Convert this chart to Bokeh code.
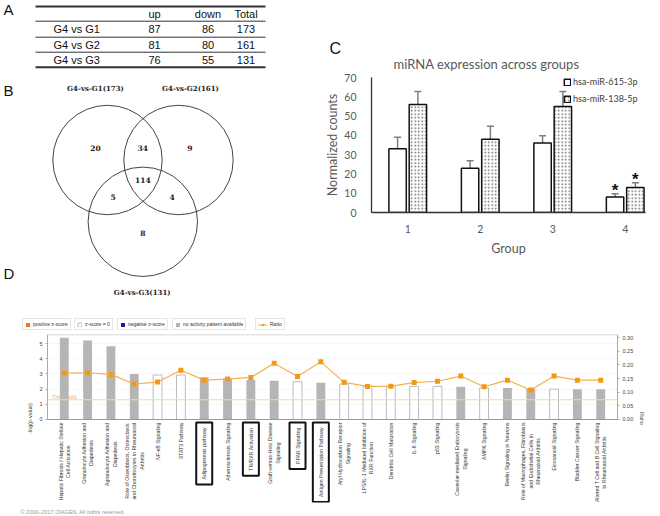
import math
from bokeh.plotting import figure
from bokeh.models import (ColumnDataSource, Range1d, FactorRange, LinearAxis,
                          SingleIntervalTicker, FixedTicker, NumeralTickFormatter, Whisker,
                          TeeHead, Legend, LegendItem, Span, Title)
from bokeh.layouts import row, column
from bokeh.core.properties import value
from bokeh.embed import file_html
from bokeh.resources import INLINE

SANS = "Liberation Sans"
SERIF = "DejaVu Serif"
XL = "Lato"

# ---------------- Panel A: table data ----------------
comparisons = ["G4 vs G1", "G4 vs G2", "G4 vs G3"]
up_counts = [87, 81, 76]
down_counts = [86, 80, 55]
total_counts = [173, 161, 131]
table_header = ["up", "down", "Total"]

# ---------------- Panel B: Venn data ----------------
venn_set_labels = ["G4-vs-G1(173)", "G4-vs-G2(161)", "G4-vs-G3(131)"]
# G1 only, G1&G2, G2 only, all three, G1&G3, G2&G3, G3 only
venn_region_counts = [20, 34, 9, 114, 5, 4, 8]

# ---------------- Panel C: bar chart data ----------------
groups = [1, 2, 3, 4]
c_series = ["hsa-miR-615-3p", "hsa-miR-138-5p"]
mir615 = [33, 23, 36, 8]
mir615_sd = [6.0, 3.8, 3.8, 1.7]
mir138 = [56, 38, 55, 13]
mir138_sd = [6.7, 6.7, 7.8, 2.4]
significant = [False, False, False, True]

# ---------------- Panel D: IPA pathways ----------------
pathways = [
    "Hepatic Fibrosis / Hepatic Stellate\nCell Activation",
    "Granulocyte Adhesion and\nDiapedesis",
    "Agranulocyte Adhesion and\nDiapedesis",
    "Role of Osteoblasts, Osteoclasts\nand Chondrocytes in Rheumatoid\nArthritis",
    "NF-\u03baB Signaling",
    "STAT3 Pathway",
    "Adipogenesis pathway",
    "Atherosclerosis Signaling",
    "TR/RXR Activation",
    "Graft-versus-Host Disease\nSignaling",
    "PPAR Signaling",
    "Antigen Presentation Pathway",
    "Aryl Hydrocarbon Receptor\nSignaling",
    "LPS/IL-1 Mediated Inhibition of\nRXR Function",
    "Dendritic Cell Maturation",
    "IL-6 Signaling",
    "p53 Signaling",
    "Caveolar-mediated Endocytosis\nSignaling",
    "AMPK Signaling",
    "Reelin Signaling in Neurons",
    "Role of Macrophages, Fibroblasts\nand Endothelial Cells in\nRheumatoid Arthritis",
    "Eicosanoid Signaling",
    "Bladder Cancer Signaling",
    "Altered T Cell and B Cell Signaling\nin Rheumatoid Arthritis",
]
neg_log_p = [5.38, 5.2, 4.82, 3.0, 2.93, 2.93, 2.78, 2.71, 2.6, 2.56, 2.49, 2.42,
             2.33, 2.2, 2.2, 2.18, 2.18, 2.16, 2.09, 2.07, 2.04, 2.0, 2.0, 2.0]
ratio = [0.170, 0.171, 0.165, 0.130, 0.137, 0.180, 0.144, 0.148, 0.154, 0.206, 0.157, 0.211,
         0.136, 0.121, 0.122, 0.135, 0.140, 0.159, 0.120, 0.144, 0.108, 0.159, 0.144, 0.144]
activity = ["none", "none", "none", "none", "zero", "zero", "none", "none", "none", "none",
            "zero", "none", "zero", "zero", "zero", "zero", "zero", "none", "zero", "none",
            "none", "zero", "none", "none"]
highlighted = ["Adipogenesis pathway", "TR/RXR Activation", "PPAR Signaling",
               "Antigen Presentation Pathway"]
threshold = 1.3
d_legend_labels = ["positive z-score", "z-score = 0", "negative z-score",
                   "no activity pattern available", "Ratio"]
copyright_text = "\u00a9 2000\u20132017 QIAGEN. All rights reserved."

# colours
C_POS, C_NEG, C_GRAY, C_ZERO_LINE = "#e8772a", "#1d1d9e", "#b5b5b5", "#bdbdbd"
C_RATIO_LINE, C_RATIO_PT = "#f4b04a", "#f29a16"

TOP_H = 316

# =============== Left column: A (table), B (Venn), letter D ===============
left = figure(width=322, height=TOP_H, x_range=Range1d(0, 322), y_range=Range1d(TOP_H, 0),
              output_backend="svg", toolbar_location=None, frame_align=False,
              x_axis_location=None, y_axis_location=None, min_border=0)
left.grid.visible = False
left.outline_line_color = None

left.text(x=[3, 3, 3], y=[9, 90, 273], text=["A", "B", "D"], text_font=value(SANS),
          text_font_size="15px", text_align="left", text_baseline="middle", text_color="#111")

rule_y = [6, 20.7, 36.7, 51.7, 66.7]
rule_w = [2, 1, 1, 1, 2]
left.segment(x0=35, x1=265, y0=rule_y, y1=rule_y, line_width=rule_w, line_color="#333")
header_y = (rule_y[0] + rule_y[1]) / 2
row_y = [(rule_y[i] + rule_y[i + 1]) / 2 for i in range(1, 4)]
tfont = dict(text_font=value(SANS), text_font_size="11px", text_baseline="middle", text_color="#111")
left.text(x=[148], y=[header_y], text=[table_header[0]], text_align="left", **tfont)
left.text(x=[207.5, 245.5], y=[header_y, header_y], text=table_header[1:], text_align="center", **tfont)
left.text(x=53, y=row_y, text=comparisons, text_align="left", **tfont)
left.text(x=148, y=row_y, text=[str(v) for v in up_counts], text_align="left", **tfont)
left.text(x=207.5, y=row_y, text=[str(v) for v in down_counts], text_align="center", **tfont)
left.text(x=245.5, y=row_y, text=[str(v) for v in total_counts], text_align="center", **tfont)

left.circle(x=[107, 178, 142.3], y=[159.5, 159.5, 221.3], radius=54.7,
            fill_color=None, line_color="#444", line_width=1)
vfont = dict(text_font=value(SERIF), text_font_style="bold", text_align="center",
             text_baseline="middle", text_color="#222")
left.text(x=[95, 190, 141.7], y=[88, 88, 291.7], text=venn_set_labels, text_font_size="7px", **vfont)
left.text(x=[95, 142.3, 189.3, 142.3, 112.7, 171.7, 142.3],
          y=[147.7, 147.7, 147.7, 179.3, 196.7, 196.7, 232.7],
          text=[str(v) for v in venn_region_counts], text_font_size="7.5px", **vfont)

# =============== Panel C ===============
c = figure(width=334, height=TOP_H, x_range=Range1d(0.5, 4.28), y_range=Range1d(0, 70),
           output_backend="svg", toolbar_location=None, frame_align=False,
           min_border_left=49, min_border_right=11, min_border_top=77, min_border_bottom=104)
c.grid.visible = False
c.outline_line_color = None
c.title.text = "C"
c.title.text_font = SANS
c.title.text_font_size = "16px"
c.title.text_font_style = "normal"
c.title.text_color = "#111"
c.title.align = "left"
c.title.offset = -42
c.title.standoff = -18
c.add_layout(Title(text="miRNA expression across groups", align="left", text_font=XL,
                   text_font_size="13px", text_font_style="normal", text_color="#595959",
                   offset=22, standoff=12), "above")

for ax in (c.xaxis[0], c.yaxis[0]):
    ax.major_tick_line_color = None
    ax.minor_tick_line_color = None
    ax.axis_line_color = "#333"
    ax.axis_line_width = 1.3
    ax.major_label_text_font = XL
    ax.major_label_text_font_size = "10.5px"
    ax.major_label_text_color = "#595959"
    ax.axis_label_text_font = XL
    ax.axis_label_text_font_size = "12.5px"
    ax.axis_label_text_font_style = "normal"
    ax.axis_label_text_color = "#595959"
c.yaxis.ticker = SingleIntervalTicker(interval=10, num_minor_ticks=0)
c.yaxis.axis_label = "Normalized counts"
c.yaxis.major_label_standoff = 9
c.yaxis.axis_label_standoff = 1
c.xaxis.ticker = FixedTicker(ticks=groups)
c.xaxis.axis_label = "Group"
c.xaxis.major_label_standoff = 6
c.xaxis.axis_label_standoff = 5

dodge_w = 0.14
csrc = ColumnDataSource(dict(
    x615=[g - dodge_w for g in groups], x138=[g + dodge_w for g in groups],
    m615=mir615, m138=mir138,
    lo615=[m - s for m, s in zip(mir615, mir615_sd)], hi615=[m + s for m, s in zip(mir615, mir615_sd)],
    lo138=[m - s for m, s in zip(mir138, mir138_sd)], hi138=[m + s for m, s in zip(mir138, mir138_sd)],
))
b615 = c.vbar(x="x615", top="m615", width=0.24, source=csrc, fill_color="white",
              line_color="#111", line_width=1.5)
b138 = c.vbar(x="x138", top="m138", width=0.24, source=csrc, fill_color="white",
              line_color="#111", line_width=1.5, hatch_pattern="dot", hatch_color="#666",
              hatch_scale=3.5, hatch_weight=1)
for base, lo, hi in (("x615", "lo615", "hi615"), ("x138", "lo138", "hi138")):
    c.add_layout(Whisker(source=csrc, base=base, lower=lo, upper=hi, line_color="#7f7f7f",
                         line_width=1.5,
                         upper_head=TeeHead(size=7, line_color="#7f7f7f", line_width=1.5),
                         lower_head=TeeHead(size=7, line_color="#7f7f7f", line_width=1.5)))
star_x, star_y = [], []
for i, s in enumerate(significant):
    if s:
        star_x += [csrc.data["x615"][i], csrc.data["x138"][i]]
        star_y += [csrc.data["hi615"][i], csrc.data["hi138"][i]]
c.text(x=star_x, y=star_y, text=["*"] * len(star_x), text_font=value(SANS), text_font_size="17px",
       text_font_style="bold", text_align="center", text_baseline="bottom", y_offset=6,
       text_color="#111")
c_leg = Legend(items=[LegendItem(label=c_series[0], renderers=[b615]),
                      LegendItem(label=c_series[1], renderers=[b138])],
               location=(192, 108), label_text_font=XL, label_text_font_size="9px",
               label_text_color="#404040", glyph_width=8, glyph_height=8, spacing=6,
               padding=0, margin=0, border_line_color=None, background_fill_alpha=0,
               label_standoff=2, label_height=10)
c.add_layout(c_leg)

# =============== Legend strip for panel D ===============
lg = figure(width=656, height=16, x_range=Range1d(0, 656), y_range=Range1d(0, 16),
            output_backend="svg", toolbar_location=None, frame_align=False,
            x_axis_location=None, y_axis_location=None, min_border=0)
lg.grid.visible = False
lg.outline_line_color = None
# zero-size stand-in glyphs, placed outside the strip's range: they only carry legend styles
off = [-100]
lg_pos = lg.vbar(x=off, top=off, bottom=off, width=0, fill_color=C_POS, line_color=None)
lg_zero = lg.vbar(x=off, top=off, bottom=off, width=0, fill_color="white", line_color=C_ZERO_LINE)
lg_neg = lg.vbar(x=off, top=off, bottom=off, width=0, fill_color=C_NEG, line_color=None)
lg_gray = lg.vbar(x=off, top=off, bottom=off, width=0, fill_color=C_GRAY, line_color=None)
lg_line = lg.line(x=off * 2, y=off * 2, line_color=C_RATIO_LINE, line_width=1.2)
lg_pt = lg.scatter(x=off, y=off, marker="square", size=5, fill_color=C_RATIO_PT, line_color=None)
legend_renderers = [[lg_pos], [lg_zero], [lg_neg], [lg_gray], [lg_line, lg_pt]]
legend_x = [22, 74, 117, 172, 255]
legend_glyph_w = [5, 5, 5, 5, 9]
for lab, rends, lx, gw in zip(d_legend_labels, legend_renderers, legend_x, legend_glyph_w):
    lg.add_layout(Legend(items=[LegendItem(label=lab, renderers=rends)], location=(lx, 2),
                         label_text_font=SANS, label_text_font_size="5px", label_text_color="#333",
                         glyph_width=gw, glyph_height=5, padding=2, margin=0,
                         border_line_color="#cccccc", label_standoff=3, label_height=6,
                         label_width=10))

# =============== Panel D ===============
D_H = 172
d_ylim = (-5.47, 5.6)        # frame covers the bar area and the label area below zero
d_plot_top = 5.6
ratio_scale = 0.30 / 5.4     # ratio units per -log(p) unit on the shared frame
d = figure(width=656, height=D_H,
           x_range=FactorRange(factors=pathways, range_padding=0.22, range_padding_units="absolute"),
           y_range=Range1d(*d_ylim), output_backend="svg", toolbar_location=None,
           frame_align=False, x_axis_location=None,
           min_border_left=47, min_border_right=39, min_border_top=2, min_border_bottom=2)
d.outline_line_color = None
d.xgrid.visible = False
d.ygrid.bounds = (0, d_plot_top)
d.ygrid.grid_line_color = "#eeeeee"
d.ygrid.grid_line_dash = "2 2"
d.extra_y_ranges = {"ratio": Range1d(d_ylim[0] * ratio_scale, d_ylim[1] * ratio_scale)}

yl = d.yaxis[0]
yl.ticker = SingleIntervalTicker(interval=1, num_minor_ticks=0)
yl.bounds = (0, d_plot_top)
yl.axis_label = "-log(p-value)"
ry = LinearAxis(y_range_name="ratio", ticker=SingleIntervalTicker(interval=0.05, num_minor_ticks=0),
                formatter=NumeralTickFormatter(format="0.00"), bounds=(0, d_plot_top * ratio_scale),
                axis_label="Ratio")
d.add_layout(ry, "right")
for ax in (yl, ry):
    ax.axis_line_color = "#aaaaaa"
    ax.major_tick_line_color = "#aaaaaa"
    ax.major_tick_out = 2
    ax.major_tick_in = 0
    ax.minor_tick_line_color = None
    ax.major_label_text_font = SANS
    ax.major_label_text_font_size = "5.5px"
    ax.major_label_text_color = "#444"
    ax.major_label_standoff = 3
    ax.axis_label_text_font = SANS
    ax.axis_label_text_font_size = "5.5px"
    ax.axis_label_text_font_style = "normal"
    ax.axis_label_text_color = "#444"
    ax.axis_label_standoff = 3

d.add_layout(Span(location=d_plot_top, dimension="width", line_color="#cccccc", line_width=1.5))
d.add_layout(Span(location=0, dimension="width", line_color="#999999", line_width=1))
d.add_layout(Span(location=threshold, dimension="width", line_color="#f6d9a2", line_width=1))
d.text(x=[pathways[0]], y=[threshold], text=["Threshold"], text_font=value(SANS),
       text_font_size="5.5px", text_color="#f0b24a", text_align="center", text_baseline="bottom")

gray_p = [p for p, a in zip(pathways, activity) if a == "none"]
gray_v = [v for v, a in zip(neg_log_p, activity) if a == "none"]
white_p = [p for p, a in zip(pathways, activity) if a == "zero"]
white_v = [v for v, a in zip(neg_log_p, activity) if a == "zero"]
d.vbar(x=gray_p, top=gray_v, width=0.38, fill_color=C_GRAY, line_color=None)
d.vbar(x=white_p, top=white_v, width=0.38, fill_color="white", line_color=C_ZERO_LINE, line_width=1)
d.line(x=pathways, y=ratio, y_range_name="ratio", line_color=C_RATIO_LINE, line_width=1.2)
d.scatter(x=pathways, y=ratio, y_range_name="ratio", marker="square", size=5,
          fill_color=C_RATIO_PT, line_color=None)

label_y = -0.2
plain = [p for p in pathways if p not in highlighted]
lfont = dict(text_font=value(SANS), text_font_size="5.2px", text_color="#333", angle=math.pi / 2,
             anchor="center_right", text_align="center", text_baseline="middle",
             text_line_height=1.25)
d.text(x=plain, y=[label_y] * len(plain), text=plain, **lfont)
d.text(x=highlighted, y=[label_y] * len(highlighted), text=highlighted,
       border_line_color="#111", border_line_width=2, padding=5, **lfont)

# copyright strip
cp = figure(width=656, height=10, x_range=Range1d(0, 656), y_range=Range1d(0, 10),
            output_backend="svg", toolbar_location=None, frame_align=False,
            x_axis_location=None, y_axis_location=None, min_border=0)
cp.grid.visible = False
cp.outline_line_color = None
cp.text(x=[20], y=[5], text=[copyright_text], text_font=value(SANS), text_font_size="5.5px",
        text_color="#999999", text_align="left", text_baseline="middle")

layout = column(row(left, c), lg, d, cp)
open("out.html", "w").write(file_html(layout, INLINE))
